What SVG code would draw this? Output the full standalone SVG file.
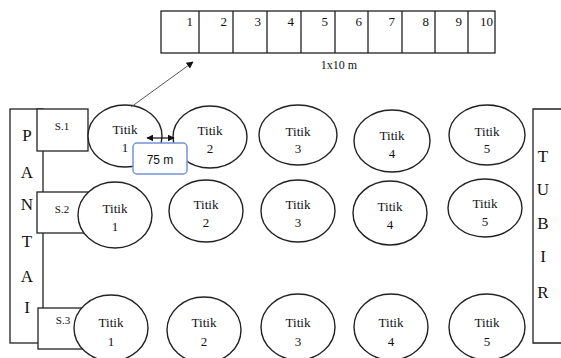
<svg xmlns="http://www.w3.org/2000/svg" width="561" height="358" viewBox="0 0 561 358">
<style>
.ln{fill:none;stroke:#222;stroke-width:1.3}
.bx{fill:#fff;stroke:#222;stroke-width:1.3}
.el{fill:#fff;stroke:#222;stroke-width:1.4}
.t{font-family:"Liberation Serif",serif;font-size:13px;fill:#111;text-anchor:middle}
.n{font-family:"Liberation Serif",serif;font-size:13px;fill:#111;text-anchor:end}
.s{font-family:"Liberation Serif",serif;font-size:11px;fill:#111;text-anchor:middle}
.L{font-family:"Liberation Serif",serif;font-size:17px;fill:#111;text-anchor:middle}
</style>
<defs>
<marker id="ah" viewBox="0 0 10 10" refX="9" refY="5" markerWidth="7" markerHeight="7" orient="auto-start-reverse" markerUnits="userSpaceOnUse"><path d="M0,0 L10,5 L0,10 z" fill="#111"/></marker>
</defs>
<g id="grid">
<rect class="bx" x="161" y="11" width="334" height="42"/>
<path class="ln" d="M199,11V53M233,11V53M267,11V53M301,11V53M335,11V53M368,11V53M402,11V53M435,11V53M468,11V53"/>
<text class="n" x="193" y="26">1</text>
<text class="n" x="227" y="26">2</text>
<text class="n" x="261" y="26">3</text>
<text class="n" x="294" y="26">4</text>
<text class="n" x="328" y="26">5</text>
<text class="n" x="362" y="26">6</text>
<text class="n" x="395" y="26">7</text>
<text class="n" x="429" y="26">8</text>
<text class="n" x="462" y="26">9</text>
<text class="n" x="493" y="26">10</text>
<text class="t" x="339" y="69" style="font-size:12px">1x10 m</text>
</g>
<g id="pantai">
<rect class="ln" x="10" y="109" width="33" height="234"/>
<text class="L" x="27" y="141">P</text>
<text class="L" x="27" y="178">A</text>
<text class="L" x="27" y="210">N</text>
<text class="L" x="27" y="247">T</text>
<text class="L" x="27" y="282">A</text>
<text class="L" x="27" y="313">I</text>
</g>
<g id="tubir">
<path class="ln" d="M565,109H533V343H565"/>
<text class="L" x="543" y="162">T</text>
<text class="L" x="543" y="195">U</text>
<text class="L" x="543" y="229">B</text>
<text class="L" x="543" y="262">I</text>
<text class="L" x="543" y="298">R</text>
</g>
<g id="s1"><rect class="bx" x="37" y="109" width="51" height="42"/><text class="s" x="62" y="130">S.1</text></g>
<g id="s2"><rect class="bx" x="37" y="192" width="51" height="41"/><text class="s" x="62" y="213">S.2</text></g>
<g id="s3"><rect class="bx" x="38" y="308" width="48" height="41"/><text class="s" x="63" y="324">S.3</text></g>
<g id="r1t1"><ellipse class="el" cx="125" cy="136" rx="37" ry="31"/><text class="t" x="125" y="134">Titik</text><text class="t" x="125" y="152">1</text></g>
<g id="r1t2"><ellipse class="el" cx="210" cy="137" rx="37" ry="31"/><text class="t" x="210" y="135">Titik</text><text class="t" x="210" y="153">2</text></g>
<g id="r1t3"><ellipse class="el" cx="298" cy="135" rx="39" ry="30"/><text class="t" x="298" y="136">Titik</text><text class="t" x="298" y="153">3</text></g>
<g id="r1t4"><ellipse class="el" cx="392" cy="141" rx="38" ry="31"/><text class="t" x="392" y="140">Titik</text><text class="t" x="392" y="158">4</text></g>
<g id="r1t5"><ellipse class="el" cx="487" cy="135" rx="38" ry="30"/><text class="t" x="487" y="136">Titik</text><text class="t" x="487" y="153">5</text></g>
<g id="r2t1"><ellipse class="el" cx="115" cy="215" rx="37" ry="33"/><text class="t" x="115" y="213">Titik</text><text class="t" x="115" y="231">1</text></g>
<g id="r2t2"><ellipse class="el" cx="206" cy="211" rx="37" ry="31"/><text class="t" x="206" y="209">Titik</text><text class="t" x="206" y="227">2</text></g>
<g id="r2t3"><ellipse class="el" cx="298" cy="211" rx="37" ry="31"/><text class="t" x="298" y="209">Titik</text><text class="t" x="298" y="227">3</text></g>
<g id="r2t4"><ellipse class="el" cx="390" cy="213" rx="37" ry="32"/><text class="t" x="390" y="211">Titik</text><text class="t" x="390" y="229">4</text></g>
<g id="r2t5"><ellipse class="el" cx="485" cy="208" rx="37" ry="29"/><text class="t" x="485" y="208">Titik</text><text class="t" x="485" y="226">5</text></g>
<g id="r3t1"><ellipse class="el" cx="111" cy="328" rx="37" ry="33"/><text class="t" x="111" y="327">Titik</text><text class="t" x="111" y="346">1</text></g>
<g id="r3t2"><ellipse class="el" cx="204" cy="330" rx="37" ry="33"/><text class="t" x="204" y="327">Titik</text><text class="t" x="204" y="346">2</text></g>
<g id="r3t3"><ellipse class="el" cx="298" cy="327" rx="37" ry="33"/><text class="t" x="298" y="327">Titik</text><text class="t" x="298" y="346">3</text></g>
<g id="r3t4"><ellipse class="el" cx="391" cy="327" rx="37" ry="33"/><text class="t" x="391" y="327">Titik</text><text class="t" x="391" y="346">4</text></g>
<g id="r3t5"><ellipse class="el" cx="487" cy="327" rx="38" ry="33"/><text class="t" x="487" y="327">Titik</text><text class="t" x="487" y="346">5</text></g>
<g id="label75"><rect x="133" y="143" width="54" height="31" rx="4" fill="#fff" stroke="#7394d6" stroke-width="1.5"/><text x="160" y="164" font-family="'Liberation Sans',sans-serif" font-size="12" fill="#111" text-anchor="middle">75 m</text></g>
<g id="connectors">
<line x1="131" y1="107" x2="193" y2="62" stroke="#555" stroke-width="1" marker-end="url(#ah)"/>
<line x1="147" y1="138" x2="174" y2="138" stroke="#111" stroke-width="1.2" marker-start="url(#ah)" marker-end="url(#ah)"/>
</g>
</svg>
